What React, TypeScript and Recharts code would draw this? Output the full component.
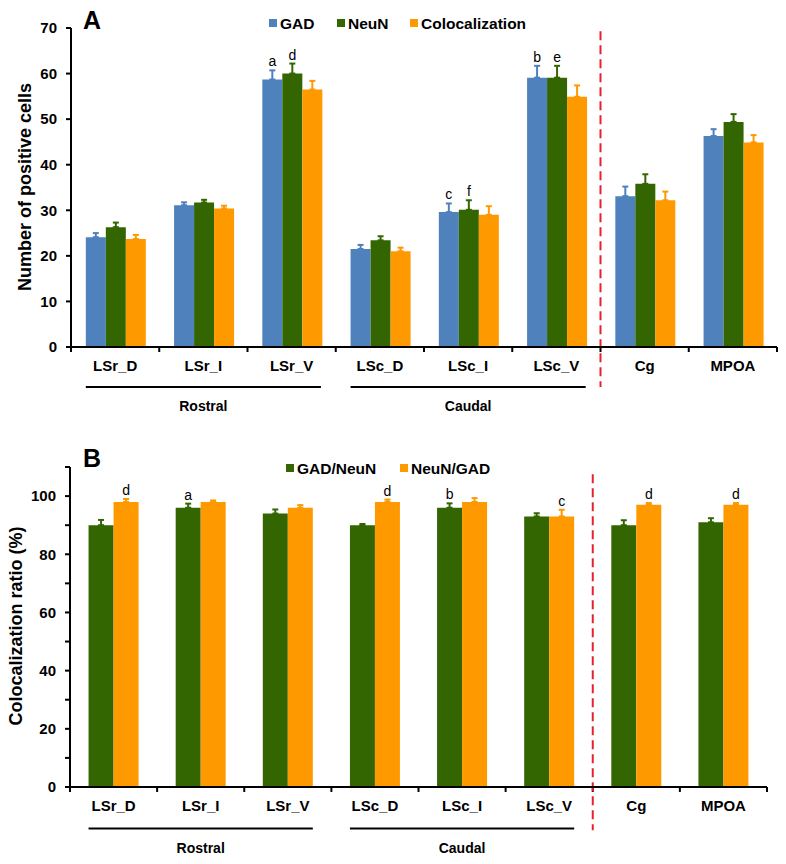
import React from 'react';
import { BarChart, Bar, XAxis, YAxis, ErrorBar, LabelList, ReferenceLine } from 'recharts';

// ---------- data ----------
const categories = ['LSr_D', 'LSr_I', 'LSr_V', 'LSc_D', 'LSc_I', 'LSc_V', 'Cg', 'MPOA'];

// Panel A: number of positive cells
const gadCounts = [24.1, 31.1, 58.7, 21.5, 29.6, 59.1, 33.1, 46.3];
const gadCountErr = [0.9, 0.65, 2.0, 0.9, 1.9, 2.6, 2.1, 1.5];
const neunCounts = [26.3, 31.7, 60.0, 23.4, 30.1, 59.1, 35.8, 49.4];
const neunCountErr = [1.0, 0.6, 2.2, 0.9, 2.1, 2.6, 2.1, 1.7];
const colocCounts = [23.7, 30.4, 56.5, 21.0, 29.0, 54.9, 32.2, 44.9];
const colocCountErr = [0.9, 0.6, 1.9, 0.8, 1.9, 2.5, 1.9, 1.6];
const gadLetters = ['', '', 'a', '', 'c', 'b', '', ''];
const neunLetters = ['', '', 'd', '', 'f', 'e', '', ''];
const countTicks = [0, 10, 20, 30, 40, 50, 60, 70];

// Panel B: colocalization ratio (%)
const gadNeunRatio = [90, 96, 94, 90, 96, 93, 90, 91];
const gadNeunErr = [1.8, 1.4, 1.4, 0.4, 1.5, 1.1, 1.7, 1.4];
const neunGadRatio = [98, 98, 96, 98, 98, 93, 97, 97];
const neunGadErr = [1.0, 0.5, 0.9, 0.8, 1.3, 2.3, 0.6, 0.6];
const gadNeunLetters = ['', 'a', '', '', 'b', '', '', ''];
const neunGadLetters = ['d', '', '', 'd', '', 'c', 'd', 'd'];
const ratioTicks = [0, 10, 20, 30, 40, 50, 60, 70, 80, 90, 100, 110];

const groups = [
  { name: 'Rostral', from: 0, to: 3 },
  { name: 'Caudal', from: 3, to: 6 },
];
const dividerIndex = 6;
const boundaries = [0, 1, 2, 3, 4, 5, 6, 7, 8];

// ---------- styles ----------
const FONT = '"Liberation Sans", Arial, Helvetica, sans-serif';
const BLUE = '#4f81bd';
const GREEN = '#336600';
const ORANGE = '#ff9900';
const RED = '#e5222b';

const countData = categories.map((name, i) => ({
  name,
  pos: i + 0.5,
  gad: gadCounts[i],
  gadErr: [0, gadCountErr[i]],
  gadLetter: gadLetters[i],
  neun: neunCounts[i],
  neunErr: [0, neunCountErr[i]],
  neunLetter: neunLetters[i],
  coloc: colocCounts[i],
  colocErr: [0, colocCountErr[i]],
}));

const ratioData = categories.map((name, i) => ({
  name,
  pos: i + 0.5,
  gn: gadNeunRatio[i],
  gnErr: [0, gadNeunErr[i]],
  gnLetter: gadNeunLetters[i],
  ng: neunGadRatio[i],
  ngErr: [0, neunGadErr[i]],
  ngLetter: neunGadLetters[i],
}));

function letterLabel(letters: string[], values: number[], errs: number[]) {
  return (props: any) => {
    const vb = props.viewBox || props;
    const index = props.index;
    const t = letters[index];
    if (!t) return null;
    const x = Number(vb.x);
    const y = Number(vb.y);
    const w = Number(vb.width);
    const h = Number(vb.height);
    const errPx = (h * errs[index]) / values[index];
    return (
      <text
        key={`l-${index}`}
        x={x + w / 2}
        y={y - errPx - 4}
        textAnchor="middle"
        fontFamily={FONT}
        fontSize={14}
        fill="#000"
      >
        {t}
      </text>
    );
  };
}

const tickStyle = { fill: '#000', fontSize: 15, fontWeight: 'bold', fontFamily: FONT };
const axisLineStyle = { stroke: '#000', strokeWidth: 2 };

function Decorations(bandGap: number, lineY: number, tickLen: number, dashTop: number, dashBottom: number) {
  const els: any[] = [];
  boundaries.forEach((b) => {
    els.push(
      <ReferenceLine
        key={`bt-${b}`}
        xAxisId="n"
        segment={[{ x: b, y: 0 }, { x: b, y: -tickLen }]}
        stroke="#000"
        strokeWidth={2}
        ifOverflow="visible"
      />
    );
  });
  groups.forEach((g) => {
    els.push(
      <ReferenceLine
        key={`g-${g.name}`}
        xAxisId="n"
        segment={[{ x: g.from + bandGap, y: lineY }, { x: g.to - bandGap, y: lineY }]}
        stroke="#000"
        strokeWidth={2}
        ifOverflow="visible"
        label={{
          value: g.name,
          position: 'bottom',
          offset: 14,
          fill: '#000',
          fontSize: 14,
          fontWeight: 'bold',
          fontFamily: FONT,
        }}
      />
    );
  });
  els.push(
    <ReferenceLine
      key="divider"
      xAxisId="n"
      segment={[{ x: dividerIndex, y: dashTop }, { x: dividerIndex, y: dashBottom }]}
      stroke={RED}
      strokeWidth={2}
      strokeDasharray="9 5"
      ifOverflow="visible"
    />
  );
  return els;
}

function Overlay() {
  const t = { fontFamily: FONT, fontWeight: 'bold' as const, fill: '#000' };
  return (
    <svg
      width={786}
      height={864}
      style={{ position: 'absolute', left: 0, top: 0, pointerEvents: 'none' }}
    >
      <text x={83} y={29} fontSize={25} {...t}>A</text>
      <text x={83} y={467} fontSize={25} {...t}>B</text>

      <rect x={269} y={19} width={8} height={8} fill={BLUE} />
      <text x={280} y={28.5} fontSize={15.5} {...t}>GAD</text>
      <rect x={337} y={19} width={8} height={8} fill={GREEN} />
      <text x={348} y={28.5} fontSize={15.5} {...t}>NeuN</text>
      <rect x={410} y={19} width={8} height={8} fill={ORANGE} />
      <text x={421} y={28.5} fontSize={15.5} {...t}>Colocalization</text>

      <rect x={286} y={464} width={8} height={8} fill={GREEN} />
      <text x={297} y={473.5} fontSize={15.5} {...t}>GAD/NeuN</text>
      <rect x={400} y={464} width={8} height={8} fill={ORANGE} />
      <text x={411} y={473.5} fontSize={15.5} {...t}>NeuN/GAD</text>

      <text
        x={25}
        y={187}
        fontSize={18}
        textAnchor="middle"
        dominantBaseline="central"
        transform="rotate(-90 25 187)"
        {...t}
      >
        Number of positive cells
      </text>
      <text
        x={16}
        y={626}
        fontSize={18}
        textAnchor="middle"
        dominantBaseline="central"
        transform="rotate(-90 16 626)"
        {...t}
      >
        Colocalization ratio (%)
      </text>
    </svg>
  );
}

export default function App() {
  const gapA = 0.168;
  const gapB = 0.213;
  return (
    <div style={{ position: 'absolute', left: 0, top: 0, width: 786, height: 864, background: '#fff' }}>
      <div style={{ position: 'absolute', left: 0, top: 0 }}>
        <BarChart
          width={786}
          height={430}
          data={countData}
          margin={{ top: 28, right: 9, bottom: 0, left: 0 }}
          barCategoryGap="16.8%"
          barGap={0}
        >
          <XAxis
            dataKey="name"
            height={83}
            axisLine={axisLineStyle}
            tickLine={false}
            tickSize={6}
            tickMargin={7}
            tick={tickStyle}
            interval={0}
          />
          <XAxis xAxisId="n" dataKey="pos" type="number" domain={[0, 8]} allowDataOverflow hide />
          <YAxis
            width={71}
            domain={[0, 70]}
            ticks={countTicks}
            interval={0}
            axisLine={axisLineStyle}
            tickLine={axisLineStyle}
            tickSize={5}
            tickMargin={9}
            tick={tickStyle}
          />
          <Bar dataKey="gad" fill={BLUE} isAnimationActive={false}>
            <ErrorBar dataKey="gadErr" width={3} stroke={BLUE} strokeWidth={2} isAnimationActive={false} />
            <LabelList dataKey="gadLetter" content={letterLabel(gadLetters, gadCounts, gadCountErr)} />
          </Bar>
          <Bar dataKey="neun" fill={GREEN} isAnimationActive={false}>
            <ErrorBar dataKey="neunErr" width={3} stroke={GREEN} strokeWidth={2} isAnimationActive={false} />
            <LabelList dataKey="neunLetter" content={letterLabel(neunLetters, neunCounts, neunCountErr)} />
          </Bar>
          <Bar dataKey="coloc" fill={ORANGE} isAnimationActive={false}>
            <ErrorBar dataKey="colocErr" width={3} stroke={ORANGE} strokeWidth={2} isAnimationActive={false} />
          </Bar>
          {Decorations(gapA, -8.8, 1.1, 69.3, -8.8)}
        </BarChart>
      </div>
      <div style={{ position: 'absolute', left: 0, top: 430 }}>
        <BarChart
          width={786}
          height={434}
          data={ratioData}
          margin={{ top: 37, right: 19, bottom: 0, left: 0 }}
          barCategoryGap="21.3%"
          barGap={0}
        >
          <XAxis
            dataKey="name"
            height={77}
            axisLine={axisLineStyle}
            tickLine={false}
            tickSize={6}
            tickMargin={7}
            tick={tickStyle}
            interval={0}
          />
          <XAxis xAxisId="n" dataKey="pos" type="number" domain={[0, 8]} allowDataOverflow hide />
          <YAxis
            width={70}
            domain={[0, 110]}
            ticks={ratioTicks}
            interval={0}
            axisLine={axisLineStyle}
            tickLine={axisLineStyle}
            tickSize={5}
            tickMargin={9}
            tick={tickStyle}
            tickFormatter={(v: number) => (v % 20 === 0 ? String(v) : '')}
          />
          <Bar dataKey="gn" fill={GREEN} isAnimationActive={false}>
            <ErrorBar dataKey="gnErr" width={3} stroke={GREEN} strokeWidth={2} isAnimationActive={false} />
            <LabelList dataKey="gnLetter" content={letterLabel(gadNeunLetters, gadNeunRatio, gadNeunErr)} />
          </Bar>
          <Bar dataKey="ng" fill={ORANGE} isAnimationActive={false}>
            <ErrorBar dataKey="ngErr" width={3} stroke={ORANGE} strokeWidth={2} isAnimationActive={false} />
            <LabelList dataKey="ngLetter" content={letterLabel(neunGadLetters, neunGadRatio, neunGadErr)} />
          </Bar>
          {Decorations(gapB, -14.3, 1.7, 107.5, -14.9)}
        </BarChart>
      </div>
      <Overlay />
    </div>
  );
}
